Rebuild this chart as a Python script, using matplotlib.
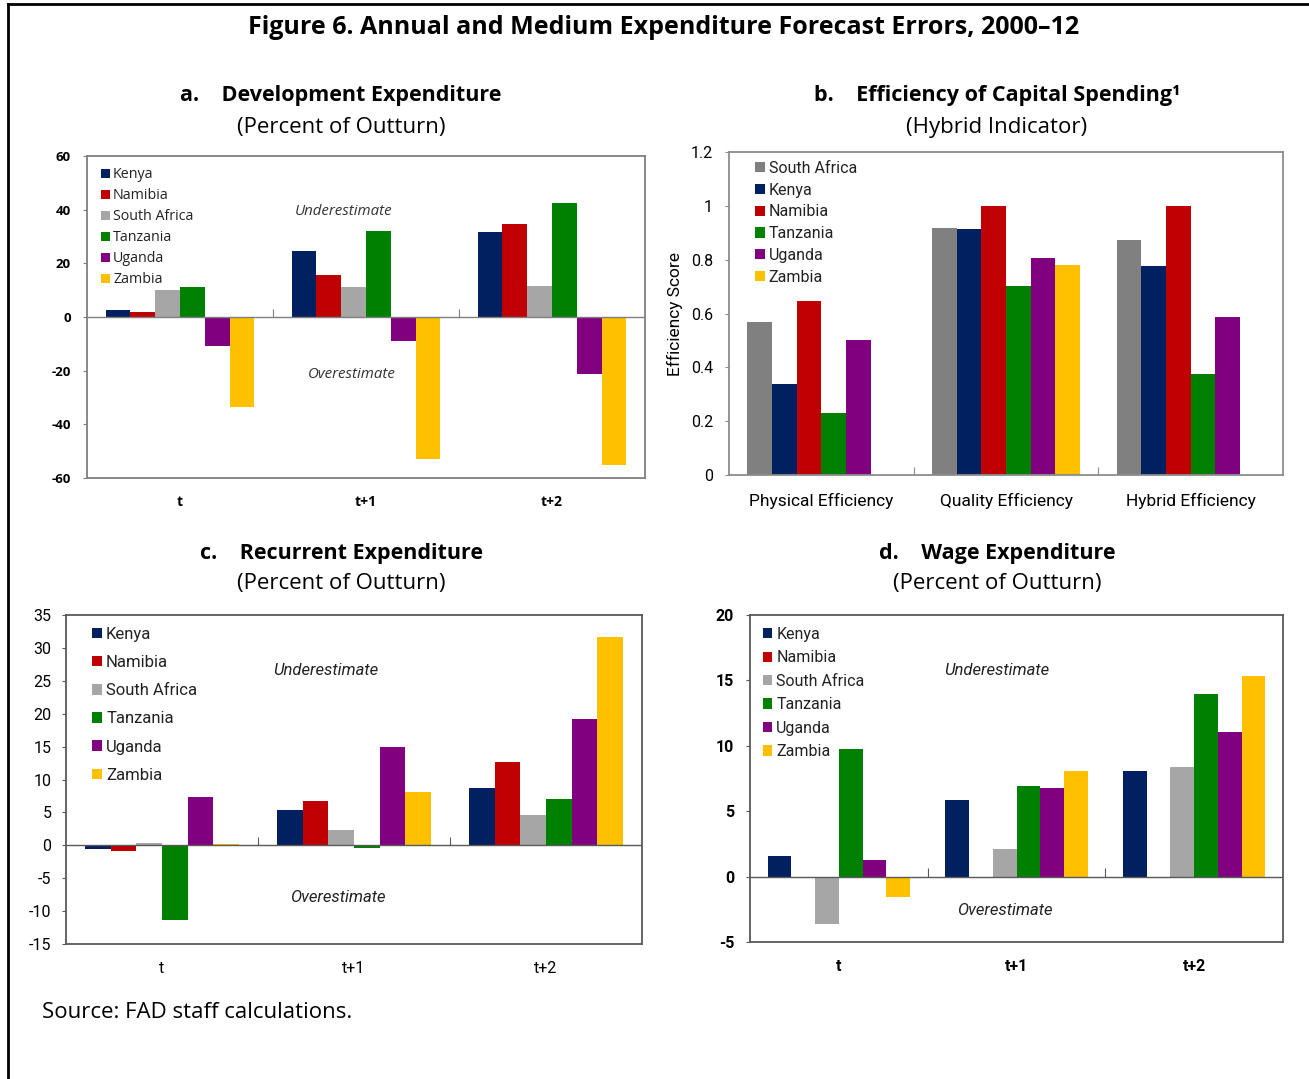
import matplotlib

matplotlib.use("Agg")
import matplotlib.pyplot as plt
import numpy as np
from matplotlib.lines import Line2D
from matplotlib.patches import Patch

# ---- data ----
horizons = ["t", "t+1", "t+2"]
countries = ["Kenya", "Namibia", "South Africa", "Tanzania", "Uganda", "Zambia"]

dev_kenya = [2.5, 24.6, 31.5]
dev_namibia = [2.0, 15.6, 34.7]
dev_safrica = [10.0, 11.0, 11.6]
dev_tanzania = [11.0, 32.2, 42.5]
dev_uganda = [-10.9, -9.1, -21.2]
dev_zambia = [-33.5, -53.0, -55.2]

eff_cats = ["Physical Efficiency", "Quality Efficiency", "Hybrid Efficiency"]
eff_countries = ["South Africa", "Kenya", "Namibia", "Tanzania", "Uganda", "Zambia"]
eff_safrica = [0.567, 0.918, 0.872]
eff_kenya = [0.337, 0.914, 0.778]
eff_namibia = [0.646, 1.0, 1.0]
eff_tanzania = [0.23, 0.703, 0.375]
eff_uganda = [0.501, 0.806, 0.586]
eff_zambia = [np.nan, 0.782, np.nan]

rec_kenya = [-0.6, 5.4, 8.7]
rec_namibia = [-0.8, 6.7, 12.6]
rec_safrica = [0.3, 2.4, 4.55]
rec_tanzania = [-11.4, -0.45, 7.1]
rec_uganda = [7.3, 15.0, 19.2]
rec_zambia = [0.25, 8.1, 31.7]

wage_kenya = [1.58, 5.82, 8.04]
wage_namibia = [np.nan, np.nan, np.nan]
wage_safrica = [-3.65, 2.09, 8.37]
wage_tanzania = [9.74, 6.96, 13.95]
wage_uganda = [1.28, 6.79, 11.07]
wage_zambia = [-1.53, 8.11, 15.36]

COL = {
    "Kenya": "#002060",
    "Namibia": "#C00000",
    "South Africa": "#A6A6A6",
    "Tanzania": "#008000",
    "Uganda": "#800080",
    "Zambia": "#FFC000",
}

W, H = 1309, 1079
TITLE_FONT = ["Open Sans", "DejaVu Sans"]
NARROW = ["Roboto", "DejaVu Sans"]


def px_axes(fig, left, top, right, bottom):
    return fig.add_axes([left / W, 1 - bottom / H, (right - left) / W, (bottom - top) / H])


def draw_bars(ax, series, names, colors):
    n = len(series)
    w = 0.8 / n
    x = np.arange(len(series[0]))
    for i, (vals, name) in enumerate(zip(series, names)):
        ax.bar(x + (i - (n - 1) / 2) * w, vals, w, color=colors[name],
               edgecolor="none", zorder=2)
    ax.set_xlim(-0.5, len(x) - 0.5)


def style_axes(ax, ymin, ymax, step, spine_col, font, fsize, tick_labels, xpad, ypad,
               weight="normal", xsize=None):
    ax.set_ylim(ymin, ymax)
    yt = np.arange(ymin, ymax + step / 2, step)
    ax.set_yticks(yt)
    ax.set_yticklabels(["{:g}".format(round(v, 2)) for v in yt], family=font,
                       fontsize=fsize, weight=weight)
    ax.set_xticks(range(len(tick_labels)))
    ax.set_xticklabels(tick_labels, family=font, fontsize=xsize or fsize, weight=weight)
    ax.tick_params(axis="x", length=0, pad=xpad)
    ax.tick_params(axis="y", length=3, width=0.8, color=spine_col, pad=ypad)
    for s in ax.spines.values():
        s.set_color(spine_col)
        s.set_linewidth(1.3)
    # category separators on the value-zero line
    tick_h = (ymax - ymin) * 0.025
    base = max(ymin, 0)
    ax.vlines([0.5, 1.5], base, base + tick_h, color=spine_col, lw=0.8, zorder=3)
    if ymin < 0:
        ax.axhline(0, color=spine_col, lw=1.0, zorder=3)


def add_legend(ax, names, font, fsize, x, y, spacing, weight="normal"):
    handles = [Patch(facecolor=COL[n], edgecolor="none") for n in names]
    leg = ax.legend(handles, names, loc="upper left", bbox_to_anchor=(x, y),
                    frameon=False, borderpad=0, borderaxespad=0,
                    handlelength=0.6, handleheight=0.6, handletextpad=0.25,
                    labelspacing=spacing, prop={"family": font, "size": fsize,
                                                "weight": weight})
    for t in leg.get_texts():
        t.set_color("#222222")
    return leg


fig = plt.figure(figsize=(W / 100, H / 100), dpi=100)

# outer frame (top and left edges only)
fig.add_artist(Line2D([8 / W, 8 / W], [0, 1 - 4 / H], color="black", lw=2.0))
fig.add_artist(Line2D([8 / W, 1], [1 - 4 / H, 1 - 4 / H], color="black", lw=2.0))

fig.text(664 / W, 1 - 28 / H, "Figure 6. Annual and Medium Expenditure Forecast Errors, 2000\u201312",
         ha="center", va="center", family=TITLE_FONT, weight="bold", fontsize=18)

panel_titles = [
    (341, 96, "a.    Development Expenditure", 127, "(Percent of Outturn)"),
    (997, 96, "b.    Efficiency of Capital Spending\u00b9", 127, "(Hybrid Indicator)"),
    (341, 553, "c.    Recurrent Expenditure", 584, "(Percent of Outturn)"),
    (997, 553, "d.    Wage Expenditure", 584, "(Percent of Outturn)"),
]
for cx, ty, title, sy, sub in panel_titles:
    fig.text(cx / W, 1 - ty / H, title, ha="center", va="center", family=TITLE_FONT,
             weight="bold", fontsize=15.5)
    fig.text(cx / W, 1 - sy / H, sub, ha="center", va="center", family=TITLE_FONT,
             fontsize=16)

# ---- a. Development expenditure ----
ax = px_axes(fig, 87, 156, 645, 478)
draw_bars(ax, [dev_kenya, dev_namibia, dev_safrica, dev_tanzania, dev_uganda, dev_zambia],
          countries, COL)
style_axes(ax, -60, 60, 20, "#7f7f7f", TITLE_FONT, 9.5, horizons, 12, 8.5, weight="bold",
           xsize=10)
add_legend(ax, countries, TITLE_FONT, 10.3, 0.025, 0.965, 0.42)
ax.text(0.459, 0.829, "Underestimate", transform=ax.transAxes, ha="center", va="center",
        style="italic", family=TITLE_FONT, fontsize=10.8, color="#333333")
ax.text(0.475, 0.32, "Overestimate", transform=ax.transAxes, ha="center", va="center",
        style="italic", family=TITLE_FONT, fontsize=10.8, color="#333333")

# ---- b. Efficiency of capital spending ----
ax = px_axes(fig, 729, 152, 1283, 475)
draw_bars(ax, [eff_safrica, eff_kenya, eff_namibia, eff_tanzania, eff_uganda, eff_zambia],
          eff_countries, {**COL, "South Africa": "#808080"})
style_axes(ax, 0, 1.2, 0.2, "#8c8c8c", NARROW, 11.5, eff_cats, 13, 8.5, xsize=12.5)
ax.set_ylabel("Efficiency Score", family=NARROW, fontsize=12.5)
ax.yaxis.set_label_coords(-0.083, 0.5)
leg = add_legend(ax, eff_countries, NARROW, 11.5, 0.047, 0.972, 0.42)
leg.legend_handles[0].set_facecolor("#808080")

# ---- c. Recurrent expenditure ----
ax = px_axes(fig, 66, 615, 642, 944)
draw_bars(ax, [rec_kenya, rec_namibia, rec_safrica, rec_tanzania, rec_uganda, rec_zambia],
          countries, COL)
style_axes(ax, -15, 35, 5, "#595959", NARROW, 11.5, horizons, 12, 7.5)
add_legend(ax, countries, NARROW, 12, 0.045, 0.964, 0.79)
ax.text(0.451, 0.83, "Underestimate", transform=ax.transAxes, ha="center", va="center",
        style="italic", family=NARROW, fontsize=12, color="#222222")
ax.text(0.472, 0.14, "Overestimate", transform=ax.transAxes, ha="center", va="center",
        style="italic", family=NARROW, fontsize=12, color="#222222")

# ---- d. Wage expenditure ----
ax = px_axes(fig, 750, 615, 1283, 942)
draw_bars(ax, [wage_kenya, wage_namibia, wage_safrica, wage_tanzania, wage_uganda, wage_zambia],
          countries, COL)
style_axes(ax, -5, 20, 5, "#595959", NARROW, 11.5, horizons, 12, 8.5, weight="bold")
add_legend(ax, countries, NARROW, 11.5, 0.024, 0.964, 0.53)
ax.text(0.463, 0.829, "Underestimate", transform=ax.transAxes, ha="center", va="center",
        style="italic", family=NARROW, fontsize=12, color="#222222")
ax.text(0.478, 0.095, "Overestimate", transform=ax.transAxes, ha="center", va="center",
        style="italic", family=NARROW, fontsize=12, color="#222222")

fig.text(42 / W, 1 - 1012 / H, "Source: FAD staff calculations.", ha="left", va="center",
         family=TITLE_FONT, fontsize=16)

fig.savefig("out.png", dpi=100)
